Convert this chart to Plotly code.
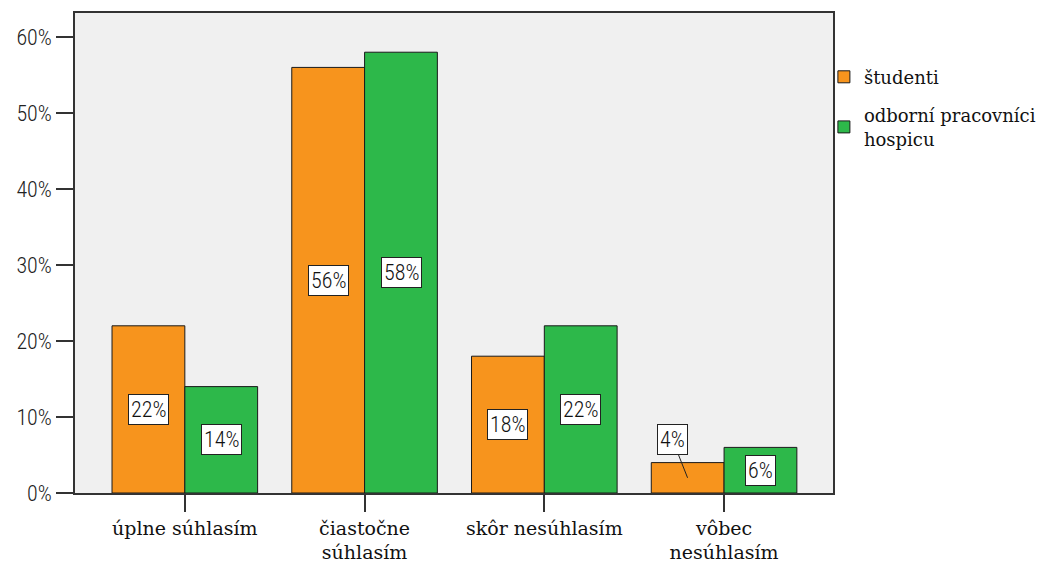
import plotly.graph_objects as go

# Survey answers and the share of each respondent group (%)
categories = ["úplne súhlasím", "čiastočne<br>súhlasím", "skôr nesúhlasím", "vôbec<br>nesúhlasím"]
series_names = ["študenti", "odborní pracovníci<br>hospicu"]
studenti = [22, 56, 18, 4]
pracovnici = [14, 58, 22, 6]
y_ticks = [0, 10, 20, 30, 40, 50, 60]
y_tick_labels = ["0%", "10%", "20%", "30%", "40%", "50%", "60%"]

colors = ["#f7941d", "#2db84a"]
sans = "Roboto Condensed"
serif = "DejaVu Serif"

fig = go.Figure()
for i, (name, vals, col) in enumerate(zip(series_names, [studenti, pracovnici], colors)):
    fig.add_trace(go.Bar(
        x=categories, y=vals, name=name, legendgroup=f"g{i}",
        marker=dict(color=col, line=dict(color="#1a1a1a", width=1)),
    ))

# boxed value labels centred in each bar
bar_px = 36.5
for vals, shift in [(studenti, -bar_px), (pracovnici, bar_px)]:
    for cat, v in zip(categories, vals):
        common = dict(
            x=cat, xshift=shift, text=f"{v}%",
            font=dict(family=sans, size=22, color="#111", weight=300),
            bgcolor="white", bordercolor="#222", borderwidth=1, borderpad=2,
        )
        if v < 5:
            fig.add_annotation(**common, y=v / 2, showarrow=True, arrowhead=0,
                               arrowwidth=1, arrowcolor="#222", ax=-15, ay=-38)
        else:
            fig.add_annotation(**common, y=v / 2, showarrow=False)

fig.update_layout(
    width=1050, height=564,
    margin=dict(l=75, r=217, t=13, b=71, autoexpand=False),
    paper_bgcolor="white", plot_bgcolor="#f0f0f0",
    barmode="group", bargap=0.19, bargroupgap=0,
    showlegend=True,
    legend=dict(x=0.988, xanchor="left", y=0.905, yanchor="top",
                font=dict(family=serif, size=18, color="#111"),
                bgcolor="rgba(0,0,0,0)", tracegroupgap=12, itemwidth=30),
)
fig.update_xaxes(
    range=[-0.611, 3.606], showline=True, linecolor="#333", linewidth=1.5, mirror=True,
    ticks="outside", ticklen=17, tickcolor="#333", tickwidth=1.5,
    tickfont=dict(family=serif, size=19, color="#111"), showgrid=False,
    automargin=False,
)
fig.update_yaxes(
    range=[0, 63.16], tickvals=y_ticks, ticktext=y_tick_labels,
    showline=True, linecolor="#333", linewidth=1.5, mirror=True,
    ticks="outside", ticklen=17, tickcolor="#333", tickwidth=1.5,
    tickfont=dict(family=sans, size=22, color="#222", weight=300),
    showgrid=False, zeroline=False, automargin=False,
)

fig.write_html("out.html")
